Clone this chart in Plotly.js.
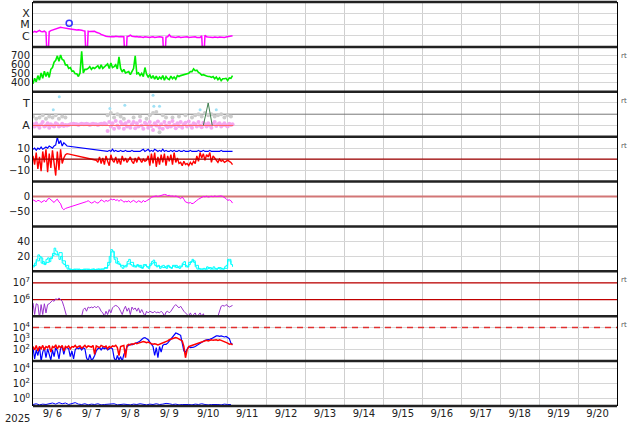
<!DOCTYPE html>
<html><head><meta charset="utf-8">
<script src="https://cdn.plot.ly/plotly-3.0.1.min.js"></script>
<style>html,body{margin:0;padding:0;background:#fff}</style>
</head><body>
<div id="chart" style="width:634px;height:424px"></div>
<script>
// ---------- DATA (hour offsets from 2025-09-06 00:00 UT) ----------
const xRange = ['2025-09-06 00:00:00', '2025-09-21 00:00:00'];

// Panel 1: X-ray flux (in 1e-6 W/m2); 0.001 = dropout
const xrayMicroW = [2.0,2.4,2.1,2.6,3.0,2.3,2.2,2.5,2.0,0.001,2.3,
 2.8,3.2,3.6,4.0,4.5,5.0,5.5,5.2,4.8,5.0,4.5,4.2,
 4.0,3.8,3.5,3.6,3.2,3.4,3.0,3.1,2.8,2.6,
 0.001,
 2.5,2.3,2.4,2.2,2.5,2.0,1.9,
 1.6,1.3,1.1,1.0,0.9,0.85,0.8,
 0.8,0.85,0.8,0.9,0.8,0.8,0.85,0.8,0.8,
 0.001,
 0.85,0.9,1.1,0.9,0.8,0.8,0.85,0.75,0.8,0.75,0.7,0.8,0.75,0.8,0.7,0.75,0.8,0.7,0.75,0.7,0.8,0.75,0.7,
 0.001,
 0.75,0.8,1.2,0.8,0.75,0.8,0.7,0.75,0.8,0.7,0.75,0.7,0.75,0.8,0.7,0.75,0.7,0.75,0.8,0.7,0.75,0.7,1.0,
 0.001,
 1.1,0.8,0.75,0.7,0.75,0.7,0.75,0.7,0.7,0.75,0.7,0.75,0.7,0.75,0.8,0.8,0.85,1.0];
const flareHour = [22.3];
const flareFlux = [1.3e-5];
const xrayTicks = ['C','M','X'];

// Panel 2: solar wind speed (km/s), hourly
const speed = [390,450,410,480,430,510,450,530,470,520,460,550,
 570,630,650,700,640,710,660,650,600,600,560,570,
 530,530,500,500,470,510,750,510,550,550,560,580,
 550,570,560,575,590,555,600,560,575,585,610,560,
 620,570,580,600,555,690,560,520,550,510,520,525,
 490,530,560,700,500,510,480,505,470,570,495,465,
 490,450,480,440,475,435,465,445,480,430,470,445,
 435,475,445,465,440,480,470,480,485,490,495,500,
 505,525,525,555,535,540,515,505,485,490,480,475,
 470,470,460,470,445,465,435,455,425,445,445,450,
 425,455,450,480];

// Panel 3: sector / polarity (A=1, T=3)
const sectorTicks = ['A','T'];
const pinkPol = [1.1,0.9,1.2,1.0,0.8,1.1,1.3,0.9,1.0,1.2,0.8,1.1,1.0,0.9,1.2,1.1,0.9,1.0,1.15,0.95,1.05,1.0,
 1.05,1.1,1.1,1.15,1.1,1.1,1.05,1.1,1.15,1.1,1.1,1.15,1.1,1.05,1.1,1.15,1.1,1.1,1.05,1.1,1.15,1.1,1.2,1.1,
 0.5,1.3,0.9,1.2,0.7,1.4,1.0,0.8,1.3,1.1,0.7,1.2,0.9,1.35,0.8,1.1,1.3,0.75,1.2,0.9,
 1.4,1.0,0.7,1.25,1.1,0.8,1.3,0.95,0.6,1.2,1.0,1.35,0.8,1.1,0.7,1.3,1.0,0.85,1.25,0.9,
 1.4,1.05,0.75,1.2,0.95,1.3,0.8,1.1,1.25,0.9,1.35,1.0,0.8,1.2,1.1,0.9,1.3,1.0,0.85,1.25,
 1.1,0.9,1.2,1.0,0.8,1.15,1.3,0.95,1.1,1.2,0.9,1.05,1.2,1.0,0.9,1.15,1.05,1.1];
const grayPol = [1.8,1.6,1.7,1.9,1.6,1.8,1.7,1.9,1.6,1.8,1.7,
 null,null,null,null,null,null,null,null,null,null,null,null,
 1.9,2.1,1.7,2.0,1.8,1.6,
 null,null,1.7,null,1.8,null,1.6,1.9,
 2.1,2.2,0.4,1.9,1.7,
 null,1.7,null,1.8,null,1.9,null,1.7,
 1.9,2.0,1.8,2.1,1.9,2.0,1.8,1.9,2.0,1.7,1.9,1.8];
const bluePolHour = [12.5,16.2,47.4,56.6,74,74.5,78,103,113];
const bluePol = [2.4,3.55,2.5,2.8,3.7,2.7,2.7,2.4,2.4];
const redPolHour = [0, 123.5];
const redPol = [1, 1];
const greenPolHour = [105, 108, 110.5];
const greenPol = [1, 3, 1];

// Panel 4: IMF Bt (blue) and Bz (red), nT, hourly (null = gap)
const bt = [9,10,8,10,9,11,9,10,11,10,12,11,10,12,13,20,14,17,12,15,13,12,
 null,null,null,null,null,null,null,null,null,null,null,null,null,null,null,null,null,null,null,null,null,null,null,null,
 7,8,7,9,7,8,7,7,8,7,7,8,7,7,7,8,7,7,7,7,7,8,9,7,8,9,7,8,7,9,8,7,8,7,9,7,8,7,7,8,
 7,8,7,7,8,7,7,8,7,7,7,8,7,7,7,7,8,7,7,8,7,7,7,8,7,7,7,7,7,7,8,7,7,7,7,7,7,7];
const bz = [3,-5,6,-9,2,-11,7,-3,9,-12,5,-8,8,-6,-15,7,-10,9,-4,1,4,5,
 null,null,null,null,null,null,null,null,null,null,null,null,null,null,null,null,null,
 -1,-3,2,-4,1,-5,3,-2,-6,4,-1,-3,2,-4,0,-5,3,-2,1,-3,-1,2,
 -2,-4,1,-3,2,-1,-3,0,-2,-1,
 3,-6,5,-4,6,-7,2,-5,4,-3,5,-6,3,-2,4,-5,6,-3,1,-4,
 -3,-6,-2,-5,-4,-6,-3,-5,-2,-4,
 3,-2,6,1,5,-1,4,2,6,-3,3,1,
 -1,-3,0,-2,-1,-3,-2,-1,-2,-3,-5];

// Panel 5: Dst (nT), hourly
const dst = [-11,-13,-17,-13,-14,-20,-16,-13,-18,-9,-6,-11,-14,-20,-13,-9,-18,-24,-39,-44,-40,-38,
 null,null,null,null,null,null,null,null,null,null,null,
 -17,-14,-18,-22,-20,-16,-20,-22,-18,-11,-14,-18,-13,-16,-13,-8,-11,-9,-13,-11,-16,-11,-13,-19,-16,-18,-14,-20,
 -16,-13,-17,-20,-14,-17,-20,-13,-18,-14,-11,-8,-2,0,2,2,0,2,3,4,7,6,3,4,1,2,0,2,0,-3,-7,-2,-9,-18,-20,-22,
 -20,-24,-22,-16,-13,-9,-6,-2,0,-1,1,-2,0,1,-1,2,0,1,3,2,0,-3,-7,-13,-11,-14,-22];

// Panel 6: activity index (two series)
const indexA = [6,11,16,22,20,11,13,9,16,18,13,19,21,31,27,22,16,20,11,9,6,3,
 3,2,2,3,2,2,3,2,2,3,2,2,3,2,2,3,2,3,3,2,3,3,4,
 4,8,20,29,27,16,11,13,9,6,4,7,8,13,16,9,7,8,6,9,6,8,4,7,8,6,4,8,13,15,
 8,6,8,4,7,8,6,4,8,6,4,7,6,8,6,4,6,11,13,8,6,9,13,16,12,6,3,4,3,3,
 4,3,6,4,3,4,6,4,3,4,3,4,3,6,8,16,16,9,6];
const indexB = [8,14,18,10,12,17,24,22,25,14,8,3,2,3,2,2,3,2,3,2,3,3,5,12,26,18,10,8,6,10,
 12,6,8,5,9,6,10,12,7,6,5,7,5,8,5,7,9,6,12,14,8,3,3,3,5,3,3,5,3,4,14,10];

// Panel 7: electron flux, log10, hourly
const electronLog = [5.8,5.1,5.75,5.7,4.9,5.7,5.1,5.75,5.2,5.7,5.75,5.85,5.95,5.9,6.05,6.0,6.1,6.0,5.9,5.6,5.2,4.9,
 null,null,null,null,null,null,null,null,
 5.0,5.4,5.5,5.3,5.55,5.5,5.55,5.5,5.6,5.5,5.6,5.5,5.3,5.2,
 5.0,5.3,5.1,5.4,5.2,5.5,5.6,5.65,5.6,5.5,5.3,5.1,5.4,5.6,5.3,5.5,5.1,5.55,5.4,5.5,5.3,5.5,5.2,5.4,5.2,5.0,
 5.3,5.2,5.3,5.25,5.2,5.3,5.2,5.25,5.2,5.3,5.2,5.0,5.25,5.3,5.2,5.3,5.5,5.6,5.7,5.6,5.5,5.6,5.4,5.3,5.2,5.1,
 5.0,5.2,5.0,5.1,5.2,4.95,5.1,5.2,5.0,5.15,4.9,4.9,
 null,null,null,null,null,null,
 5.0,5.3,5.6,5.65,5.6,5.7,5.6,5.55,5.6,5.65];

// Panel 8: proton flux, log10, hourly (red, blue)
const protonRedLog = [2.3,2.0,2.4,1.9,2.3,2.1,2.4,2.0,2.3,2.2,2.4,1.8,2.3,2.2,2.45,2.1,2.35,2.2,2.4,1.9,2.3,
 2.2,2.35,2.1,2.3,2.25,2.4,2.2,2.3,2.35,2.15,2.3,2.4,2.2,2.35,2.3,2.25,2.4,1.6,2.35,2.3,2.2,2.4,2.3,2.25,2.35,2.1,2.3,2.2,2.35,2.3,2.4,2.2,1.5,2.3,2.35,
 2.4,1.3,2.4,2.5,2.45,2.55,2.5,2.6,2.55,2.6,2.65,
 2.7,2.75,2.7,2.65,2.7,2.6,2.55,2.5,2.55,
 2.5,2.45,2.5,2.55,2.6,2.65,2.7,2.8,2.9,2.95,
 3.0,3.05,3.1,3.05,2.95,2.9,
 2.8,2.3,1.3,2.0,2.3,
 2.35,2.4,2.45,2.5,2.55,2.6,2.65,2.7,2.75,
 2.8,2.85,2.8,2.85,2.9,2.85,2.9,2.9,2.85,2.9,2.85,
 2.8,2.75,2.7,2.6,2.5,2.55,2.45];
const protonBlueLog = [2.2,1.2,2.0,1.5,2.3,1.0,1.8,2.2,1.3,2.1,1.6,1.1,2.0,1.4,2.2,1.9,1.2,2.1,2.3,1.6,2.2,
 2.2,2.1,1.4,1.9,1.2,2.0,2.2,2.1,2.2,2.0,2.2,2.1,
 1.3,1.0,1.6,1.1,1.2,1.5,1.9,
 2.1,2.2,2.0,2.2,2.1,2.2,2.0,2.1,2.2,2.1,
 1.3,1.0,1.5,1.1,1.4,1.0,1.6,1.9,
 2.3,2.4,2.5,2.45,2.5,2.55,2.6,2.7,2.8,
 2.95,3.05,3.1,3.0,2.9,2.7,2.5,2.3,
 1.5,2.2,1.3,2.3,1.8,2.4,2.5,
 2.5,2.6,2.8,3.0,3.2,
 3.4,3.5,3.45,3.4,3.3,
 2.6,1.9,1.8,2.1,2.3,
 2.2,2.2,2.25,2.3,2.4,2.5,2.6,2.7,2.8,
 2.85,2.9,2.9,2.95,3.0,3.1,3.2,3.25,3.25,3.2,3.25,
 3.2,3.15,3.2,3.1,3.0,2.6,2.5];

// Panel 9: high-energy proton flux, log10, every 2 hours
const hiProtonLog = [-0.8,-0.7,-0.85,-0.75,-0.8,-0.7,-0.6,-0.75,-0.55,-0.7,
 -0.6,-0.8,-0.65,-0.55,-0.75,-0.8,-0.7,-0.85,-0.75,-0.8,
 -0.7,-0.85,-0.8,-0.75,-0.8,-0.7,-0.85,-0.8,-0.75,-0.8,
 -0.85,-0.75,-0.8,-0.7,-0.8,-0.85,-0.75,-0.8,-0.7,-0.8,
 -0.75,-0.65,-0.7,-0.8,-0.75,-0.85,-0.8,-0.75,-0.8,-0.85,
 -0.75,-0.8,-0.7,-0.8,-0.85,-0.8,-0.75,-0.8,-0.85,-0.75,
 -0.8,-0.8];

// Reference levels
const bzZero = 0, dstZero = 0;
const electronLevels = [1e6, 1e7];
const protonLevel = 1e4;
const sectorMid = 2;

// ---------- helpers ----------
const START_UTC = Date.UTC(2025, 8, 6);
function hourToDate(h){ return new Date(START_UTC + h*3600000).toISOString().slice(0,19).replace('T',' '); }
function hourly(arr, step){ return arr.map((_, i) => hourToDate(i*(step||1))); }
function pow10(arr){ return arr.map(v => v === null ? null : Math.pow(10, v)); }
const fullX = xRange;

const traces = [];
function line(x, y, yaxis, color, width, extra){
  traces.push(Object.assign({x, y, yaxis, xaxis:'x', type:'scatter', mode:'lines',
    line:{color, width}, hoverinfo:'skip', showlegend:false}, extra||{}));
}
// Panel 1
line(hourly(xrayMicroW), xrayMicroW.map(v => v*1e-6), 'y', '#ff00ff', 1.5);
traces.push({x: flareHour.map(hourToDate), y: flareFlux, yaxis:'y', xaxis:'x', type:'scatter', mode:'markers',
  marker:{symbol:'circle-open', size:6, color:'#3030ff', line:{width:1.5}}, showlegend:false, hoverinfo:'skip'});
// Panel 2
line(hourly(speed), speed, 'y2', '#00ee00', 1.6);
// Panel 3
line(fullX, [sectorMid, sectorMid], 'y3', '#777777', 1);
traces.push({x: hourly(grayPol, 2), y: grayPol, yaxis:'y3', xaxis:'x', type:'scatter', mode:'markers',
  marker:{size:4, color:'#cccccc'}, showlegend:false, hoverinfo:'skip'});
traces.push({x: hourly(pinkPol), y: pinkPol, yaxis:'y3', xaxis:'x', type:'scatter', mode:'markers',
  marker:{size:4, color:'#f4a8f0'}, showlegend:false, hoverinfo:'skip'});
traces.push({x: bluePolHour.map(hourToDate), y: bluePol, yaxis:'y3', xaxis:'x', type:'scatter', mode:'markers',
  marker:{size:3, color:'#9fe0f5'}, showlegend:false, hoverinfo:'skip'});
line(redPolHour.map(hourToDate), redPol, 'y3', '#ff6060', 1);
line(greenPolHour.map(hourToDate), greenPol, 'y3', '#3f7f4f', 1);
// Panel 4
line(hourly(bt), bt, 'y4', '#0000ff', 1.2, {connectgaps:true});
line(hourly(bz), bz, 'y4', '#ff0000', 1.4, {connectgaps:true});
line(fullX, [bzZero, bzZero], 'y4', '#a00000', 1.2);
// Panel 5
line(fullX, [dstZero, dstZero], 'y5', '#d27676', 2);
line(hourly(dst), dst, 'y5', '#ff00ff', 1, {connectgaps:true});
// Panel 6
line(hourly(indexB, 2), indexB, 'y6', '#00ffff', 1, {line:{color:'#00ffff', width:1, shape:'hv'}});
line(hourly(indexA), indexA, 'y6', '#00ffff', 1, {line:{color:'#00ffff', width:1, shape:'hv'}});
// Panel 7
line(fullX, [electronLevels[0], electronLevels[0]], 'y7', '#c00000', 1.2);
line(fullX, [electronLevels[1], electronLevels[1]], 'y7', '#c00000', 1.2);
line(hourly(electronLog), pow10(electronLog), 'y7', '#9933cc', 1);
// Panel 8
line(hourly(protonBlueLog), pow10(protonBlueLog), 'y8', '#0000ff', 1.2);
line(hourly(protonRedLog), pow10(protonRedLog), 'y8', '#ff0000', 1.5);
line(fullX, [protonLevel, protonLevel], 'y8', '#e03030', 1.5, {line:{color:'#e03030', width:1.5, dash:'6px,5px'}});
// Panel 9
line(hourly(hiProtonLog, 2), pow10(hiProtonLog), 'y9', '#0000ff', 1);

// ---------- layout ----------
const N = 9;
function dom(i){ return [1-(i+1)/N, 1-i/N]; }
const tickFont = {family:'DejaVu Sans', size:10, color:'#222'};
function yax(i, extra){
  return Object.assign({domain: dom(i), anchor:'x', showline:true, mirror:true, linecolor:'#000', linewidth:1,
    showgrid:true, gridcolor:'#d6d6d6', gridwidth:1, zeroline:false, ticks:'', tickfont:tickFont, fixedrange:true}, extra);
}
const sup = e => '10<sup>' + e + '</sup>';
const layout = {
  width:634, height:424, margin:{l:33, r:17, t:2, b:18}, paper_bgcolor:'#fff', plot_bgcolor:'#fff',
  showlegend:false,
  xaxis:{type:'date', range:xRange, anchor:'y9', showgrid:true, gridcolor:'#cfcfcf', gridwidth:1,
    tick0:'2025-09-06', dtick:86400000, tickformat:'%-m/%e', ticklabelmode:'period', ticks:'',
    showline:false, zeroline:false, tickfont:{family:'DejaVu Sans', size:10, color:'#222'}, fixedrange:true},
  yaxis: yax(0, {type:'log', range:[-7,-3], tickvals:[1e-6,1e-5,1e-4], ticktext:xrayTicks, tickfont:{family:'DejaVu Sans', size:11, color:'#222'}}),
  yaxis2: yax(1, {range:[300,800], tickvals:[400,500,600,700]}),
  yaxis3: yax(2, {range:[0,4], tickvals:[1,3], ticktext:sectorTicks, tickfont:{family:'DejaVu Sans', size:11, color:'#222'}}),
  yaxis4: yax(3, {range:[-20.5,20.5], tickvals:[-10,0,10]}),
  yaxis5: yax(4, {range:[-100,50], tickvals:[-50,0]}),
  yaxis6: yax(5, {range:[0,60], tickvals:[20,40]}),
  yaxis7: yax(6, {type:'log', range:[5,7.7], tickvals:[1e6,1e7], ticktext:[sup(6), sup(7)]}),
  yaxis8: yax(7, {type:'log', range:[1,5], tickvals:[1e2,1e3,1e4], ticktext:[sup(2), sup(3), sup(4)]}),
  yaxis9: yax(8, {type:'log', range:[-1,5], tickvals:[1,1e2,1e4], ticktext:[sup(0), sup(2), sup(4)]}),
  shapes: [],
  annotations: [
    {text:'2025', xref:'paper', yref:'paper', x:-0.027, y:-0.03, showarrow:false, xanchor:'center', yanchor:'middle',
     font:{family:'DejaVu Sans', size:10, color:'#222'}}
  ]
};
for (let k = 0; k <= N; k++) {
  layout.shapes.push({type:'line', xref:'paper', yref:'paper', x0:0, x1:1, y0:k/N, y1:k/N,
    line:{color:'#222', width:2.5}, layer:'above'});
}
const rtPanels = [1, 2, 3, 6, 7];
rtPanels.forEach(i => {
  layout.annotations.push({text:'rt', xref:'paper', yref:'paper', x:1.0115, y:1 - i/N - 0.022, showarrow:false,
    xanchor:'center', yanchor:'middle', font:{family:'DejaVu Sans', size:7, color:'#555'}});
});
Plotly.newPlot('chart', traces, layout, {staticPlot:true, displayModeBar:false});
</script></body></html>
